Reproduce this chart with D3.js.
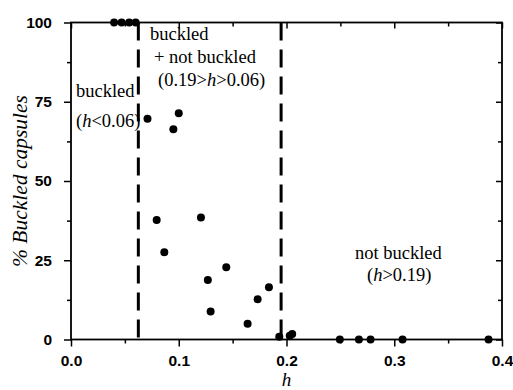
<!DOCTYPE html>
<html>
<head>
<meta charset="utf-8">
<script src="https://cdn.jsdelivr.net/npm/d3@7"></script>
<style>
  body { margin: 0; background: #fff; }
  svg { display: block; }
</style>
</head>
<body>
<script>
// measured values
const hValues = [0.040, 0.047, 0.054, 0.060, 0.071, 0.095, 0.100, 0.0795, 0.0866, 0.1206,
  0.127, 0.1296, 0.1441, 0.1639, 0.1732, 0.1837, 0.1933, 0.203, 0.2053,
  0.2495, 0.2672, 0.278, 0.3077, 0.3875];
const pctBuckled = [100, 100, 100, 100, 69.6, 66.3, 71.4, 37.7, 27.5, 38.5,
  18.8, 8.8, 22.8, 5.0, 12.7, 16.5, 0.9, 1.2, 1.7,
  0, 0, 0, 0, 0];
const boundaries = [0.0625, 0.195];
const xTicks = [0.0, 0.1, 0.2, 0.3, 0.4];
const yTicks = [0, 25, 50, 75, 100];

const width = 513, height = 390;
const margin = { top: 22.5, right: 11, bottom: 50.5, left: 71 };
const iw = width - margin.left - margin.right;
const ih = height - margin.top - margin.bottom;

const SANS = 'Liberation Sans';
const SERIF = 'Liberation Serif';

const svg = d3.select('body').append('svg')
  .attr('width', width)
  .attr('height', height);

const g = svg.append('g')
  .attr('transform', `translate(${margin.left},${margin.top})`);

const x = d3.scaleLinear().domain([0, 0.4]).range([0, iw]);
const y = d3.scaleLinear().domain([0, 100]).range([ih, 0]);

// minor ticks
const xMinor = d3.range(0.05, 0.4, 0.1);
const yMinor = d3.range(12.5, 100, 25);

function styleAxis(sel) {
  sel.select('.domain').remove();
  sel.selectAll('line').attr('stroke', '#000').attr('stroke-width', 1.5);
  sel.selectAll('text')
    .attr('fill', '#000')
    .style('font-family', SANS)
    .style('font-weight', 'bold')
    .style('font-size', '15.5px');
}

// bottom
g.append('g').attr('transform', `translate(0,${ih})`)
  .call(d3.axisBottom(x).tickValues(xTicks).tickFormat(d3.format('.1f')).tickSize(7).tickPadding(8))
  .call(styleAxis);
g.append('g').attr('transform', `translate(0,${ih})`)
  .call(d3.axisBottom(x).tickValues(xMinor).tickFormat('').tickSize(4))
  .call(styleAxis);
// top (inward)
g.append('g')
  .call(d3.axisBottom(x).tickValues(xTicks).tickFormat('').tickSize(6))
  .call(styleAxis);
g.append('g')
  .call(d3.axisBottom(x).tickValues(xMinor).tickFormat('').tickSize(4))
  .call(styleAxis);
// left
g.append('g')
  .call(d3.axisLeft(y).tickValues(yTicks).tickFormat(d3.format('d')).tickSize(7).tickPadding(12))
  .call(styleAxis);
g.append('g')
  .call(d3.axisLeft(y).tickValues(yMinor).tickFormat('').tickSize(4))
  .call(styleAxis);
// right (inward)
g.append('g').attr('transform', `translate(${iw},0)`)
  .call(d3.axisLeft(y).tickValues(yTicks).tickFormat('').tickSize(6))
  .call(styleAxis);
g.append('g').attr('transform', `translate(${iw},0)`)
  .call(d3.axisLeft(y).tickValues(yMinor).tickFormat('').tickSize(4))
  .call(styleAxis);

// frame
g.append('rect')
  .attr('width', iw).attr('height', ih)
  .attr('fill', 'none').attr('stroke', '#000').attr('stroke-width', 1.8);

// boundary lines
g.selectAll('.bound').data(boundaries).enter().append('line')
  .attr('x1', d => x(d)).attr('x2', d => x(d))
  .attr('y1', 0).attr('y2', ih)
  .attr('stroke', '#000').attr('stroke-width', 3)
  .attr('stroke-dasharray', '18,9');

// points
g.selectAll('.pt').data(hValues).enter().append('circle')
  .attr('cx', d => x(d))
  .attr('cy', (d, i) => y(pctBuckled[i]))
  .attr('r', 4)
  .attr('fill', '#000');

// annotations
function note(px, py, parts) {
  const t = svg.append('text')
    .attr('x', px).attr('y', py)
    .style('font-family', SERIF)
    .style('font-size', '18.5px')
    .attr('fill', '#000');
  parts.forEach(p => {
    t.append('tspan').text(p[0]).style('font-style', p[1] ? 'italic' : 'normal');
  });
}
note(76, 97, [['buckled']]);
note(76, 127, [['('], ['h', true], ['<0.06)']]);
note(150, 40, [['buckled']]);
note(154, 63, [['+ not buckled']]);
note(158, 86, [['(0.19>'], ['h', true], ['>0.06)']]);
note(355, 259, [['not buckled']]);
note(367, 281, [['('], ['h', true], ['>0.19)']]);

// axis titles
svg.append('text')
  .attr('x', margin.left + iw / 2).attr('y', 386)
  .attr('text-anchor', 'middle')
  .style('font-family', SERIF).style('font-style', 'italic').style('font-size', '19px')
  .text('h');

svg.append('text')
  .attr('transform', `translate(27,${margin.top + ih / 2}) rotate(-90)`)
  .attr('text-anchor', 'middle')
  .style('font-family', SERIF).style('font-style', 'italic').style('font-size', '21.5px')
  .text('% Buckled capsules');
</script>
</body>
</html>
